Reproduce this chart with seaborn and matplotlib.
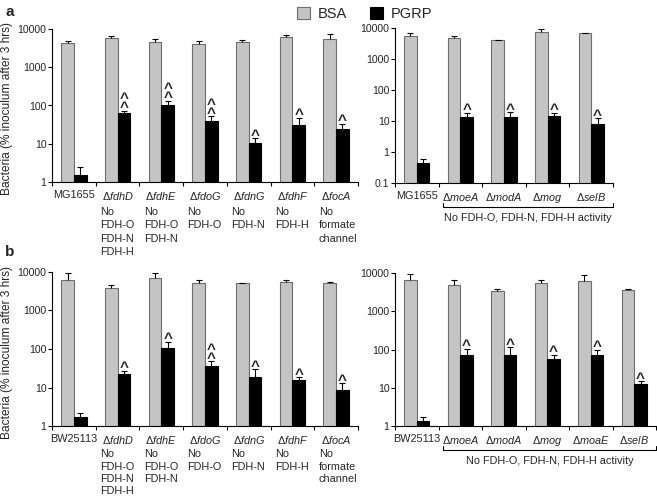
import numpy as np
import pandas as pd
import matplotlib
matplotlib.use("Agg")
import matplotlib.pyplot as plt
from matplotlib.patches import Patch
from matplotlib.ticker import NullLocator
import matplotlib.transforms as mtransforms
import seaborn as sns

# Panel a, left: E. coli MG1655 formate dehydrogenase mutants
a1_strains = ["MG1655", "fdhD", "fdhE", "fdoG", "fdnG", "fdhF", "focA"]
a1_bsa = [4400, 5700, 4500, 4070, 4500, 6300, 5370]
a1_bsa_err = [600, 800, 1100, 930, 800, 800, 1850]
a1_pgrp = [1.5, 63, 104, 39, 10.4, 31, 24]
a1_pgrp_err = [0.9, 9, 28, 13, 3.6, 17, 9]
a1_sig = [0, 2, 2, 2, 1, 1, 1]

# Panel a, right: molybdenum cofactor / selenocysteine mutants
a2_strains = ["MG1655", "moeA", "modA", "mog", "selB"]
a2_bsa = [5360, 4630, 4100, 7240, 6900]
a2_bsa_err = [1540, 730, 100, 1760, 150]
a2_pgrp = [0.43, 13.8, 13.8, 14.8, 8.1]
a2_pgrp_err = [0.16, 4.8, 5.2, 3.8, 4.2]
a2_sig = [0, 1, 1, 1, 1]

# Panel b, left: BW25113 background
b1_strains = ["BW25113", "fdhD", "fdhE", "fdoG", "fdnG", "fdhF", "focA"]
b1_bsa = [6330, 3850, 7130, 5080, 5080, 5620, 5250]
b1_bsa_err = [2900, 850, 2100, 1250, 120, 700, 250]
b1_pgrp = [1.68, 22.7, 109, 37, 18.6, 15.3, 8.6]
b1_pgrp_err = [0.45, 4.5, 47, 11, 11, 3.3, 4.3]
b1_sig = [0, 1, 1, 2, 1, 1, 1]

# Panel b, right
b2_strains = ["BW25113", "moeA", "modA", "mog", "moaE", "selB"]
b2_bsa = [6560, 4960, 3400, 5480, 6320, 3670]
b2_bsa_err = [2840, 1740, 500, 1220, 2380, 80]
b2_pgrp = [1.35, 74, 70, 58, 70, 12.2]
b2_pgrp_err = [0.37, 32, 45, 16, 30, 2.7]
b2_sig = [0, 1, 1, 1, 1, 1]

wild_types = ["MG1655", "BW25113"]
fdh_notes = ["", "No\nFDH-O\nFDH-N\nFDH-H", "No\nFDH-O\nFDH-N", "No\nFDH-O",
             "No\nFDH-N", "No\nFDH-H", "No\nformate\nchannel"]
bracket_text = "No FDH-O, FDH-N, FDH-H activity"
ylabel = "Bacteria (% inoculum after 3 hrs)"

GRAY = "#c4c4c4"
GRAY_EDGE = "#6e6e6e"

sns.set_style("ticks")
plt.rcParams["font.family"] = ["Liberation Sans", "DejaVu Sans"]
plt.rcParams["mathtext.fontset"] = "custom"
plt.rcParams["mathtext.it"] = "Liberation Sans:italic"
plt.rcParams["mathtext.rm"] = "Liberation Sans"


def tick_label(s):
    if s in wild_types:
        return s
    return "Δ$\\mathit{" + s + "}$"


def draw_panel(ax, strains, bsa, bsa_err, pgrp, pgrp_err, sig, ymin):
    n = len(strains)
    df = pd.DataFrame({
        "strain": strains * 2,
        "group": ["BSA"] * n + ["PGRP"] * n,
        "value": bsa + pgrp,
    })
    sns.barplot(data=df, x="strain", y="value", hue="group", order=strains,
                hue_order=["BSA", "PGRP"], palette={"BSA": GRAY, "PGRP": "black"},
                width=0.58, errorbar=None, legend=False, ax=ax, linewidth=0.8)
    ax.set_yscale("log")

    for cont, errs, ec in zip(ax.containers, [bsa_err, pgrp_err], [GRAY_EDGE, "black"]):
        xs = [b.get_x() + b.get_width() / 2 for b in cont]
        ys = [b.get_height() for b in cont]
        for b in cont:
            b.set_edgecolor(ec)
        _, caps, _ = ax.errorbar(xs, ys, yerr=[np.zeros(n), errs], fmt="none",
                                 ecolor="black", elinewidth=0.8, capsize=2.5,
                                 capthick=0.8, zorder=3)
        caps[0].set_visible(False)
        if ec == "black":
            # significance carets above the PGRP bars
            for x, y, e, k in zip(xs, ys, errs, sig):
                if k == 0:
                    continue
                ax.annotate("\n".join(["^"] * k), (x, y + e), xytext=(0, -1),
                            textcoords="offset points", ha="center",
                            va="baseline", fontsize=11, fontweight="bold",
                            linespacing=0.55)

    ax.set_xlim(-0.5, n - 0.5)
    ax.set_ylim(ymin, 10000)
    ticks = [10 ** k for k in range(int(np.log10(ymin)), 5)]
    ax.set_yticks(ticks)
    ax.set_yticklabels([("%g" % t) for t in ticks], fontsize=7.6)
    ax.yaxis.set_minor_locator(NullLocator())
    ax.set_xticks(range(n))
    ax.set_xticklabels([tick_label(s) for s in strains], fontsize=7.8)
    ax.set_xticks(np.arange(-0.5, n), minor=True)
    ax.tick_params(axis="x", which="major", length=0, pad=5.5)
    ax.tick_params(axis="x", which="minor", length=3, width=0.8, color="black")
    ax.tick_params(axis="y", length=3, width=0.8, pad=1, color="black")
    ax.set_xlabel("")
    ax.set_ylabel("")
    for sp in ["left", "bottom"]:
        ax.spines[sp].set_linewidth(0.8)
        ax.spines[sp].set_color("black")
    sns.despine(ax=ax)


def add_notes(ax, top, spacing):
    trans = mtransforms.blended_transform_factory(ax.transData, ax.transAxes)
    for i, note in enumerate(fdh_notes):
        ax.text(i - 0.4, top, note, transform=trans, ha="left", va="top",
                fontsize=7.8, linespacing=spacing)


def add_bracket(ax, n):
    trans = mtransforms.blended_transform_factory(ax.transData, ax.transAxes)
    ax.plot([0.6, 0.6, n - 0.5, n - 0.5], [-0.13, -0.157, -0.157, -0.13],
            transform=trans, color="black", lw=0.8, clip_on=False)
    ax.text((0.6 + n - 0.5) / 2, -0.228, bracket_text, transform=trans,
            ha="center", va="center", fontsize=7.8)


fig = plt.figure(figsize=(6.57, 4.98), dpi=100)
ax_a1 = fig.add_axes([52 / 657, 1 - 182 / 498, 306 / 657, 153 / 498])
ax_a2 = fig.add_axes([395 / 657, 1 - 183 / 498, 218 / 657, 155 / 498])
ax_b1 = fig.add_axes([52 / 657, 1 - 426 / 498, 306 / 657, 154 / 498])
ax_b2 = fig.add_axes([395 / 657, 1 - 426 / 498, 261 / 657, 153 / 498])

draw_panel(ax_a1, a1_strains, a1_bsa, a1_bsa_err, a1_pgrp, a1_pgrp_err, a1_sig, 1)
draw_panel(ax_a2, a2_strains, a2_bsa, a2_bsa_err, a2_pgrp, a2_pgrp_err, a2_sig, 0.1)
draw_panel(ax_b1, b1_strains, b1_bsa, b1_bsa_err, b1_pgrp, b1_pgrp_err, b1_sig, 1)
draw_panel(ax_b2, b2_strains, b2_bsa, b2_bsa_err, b2_pgrp, b2_pgrp_err, b2_sig, 1)

add_notes(ax_a1, -0.165, 1.4)
add_notes(ax_b1, -0.15, 1.3)
add_bracket(ax_a2, len(a2_strains))
add_bracket(ax_b2, len(b2_strains))

for ax in [ax_a1, ax_b1]:
    ax.set_ylabel(ylabel, fontsize=8.6)
    ax.yaxis.set_label_coords(-0.128, 0.48)

fig.text(5 / 657, 1 - 12 / 498, "a", fontsize=11, fontweight="bold", va="center")
fig.text(5 / 657, 1 - 252 / 498, "b", fontsize=11, fontweight="bold", va="center")

handles = [Patch(facecolor=GRAY, edgecolor=GRAY_EDGE, lw=0.8, label="BSA"),
           Patch(facecolor="black", edgecolor="black", lw=0.8, label="PGRP")]
fig.legend(handles=handles, loc="upper center", bbox_to_anchor=(0.555, 1.012),
           ncol=2, frameon=False, fontsize=10.5, handlelength=0.9,
           handleheight=0.9, handletextpad=0.5, columnspacing=1.6)

fig.savefig("out.png", dpi=100)
